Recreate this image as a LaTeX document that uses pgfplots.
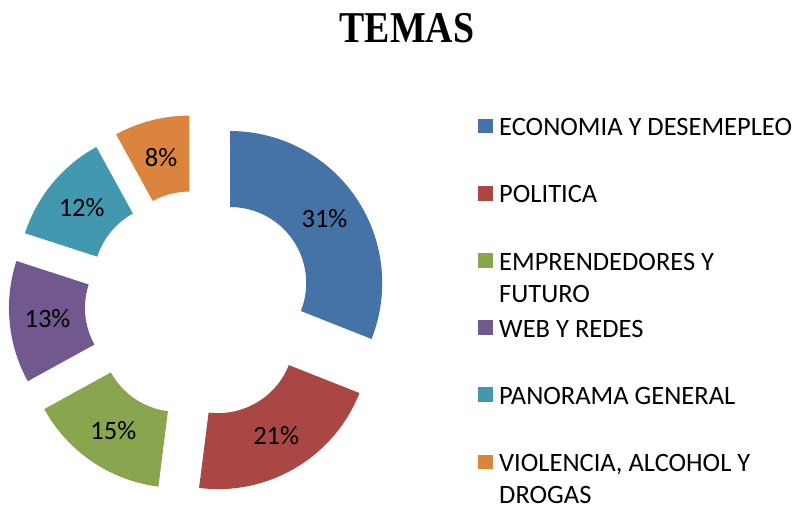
\documentclass[border=0pt]{standalone}
\usepackage{pgfplots}
\pgfplotsset{compat=1.18}
\usepackage{pgfplotstable}
\usepackage{fontspec}
\setmainfont{Carlito}
\newfontfamily\titlefont{Liberation Serif}
\definecolor{c0}{HTML}{4572A7}
\definecolor{c1}{HTML}{AA4643}
\definecolor{c2}{HTML}{89A54E}
\definecolor{c3}{HTML}{71588F}
\definecolor{c4}{HTML}{4198AF}
\definecolor{c5}{HTML}{DB843D}
\pgfplotstableread{
tema value
Economia 31
Politica 21
Emprendedores 15
Web 13
Panorama 12
Violencia 8
}\temas
% geometry (1 unit = 1pt = 1px of the reference)
\def\Cx{198.8}\def\Cy{202.6}\def\Dex{38}\def\Rm{114}
\gdef\cum{0}
\foreach \i in {0,...,5}{%
  \pgfplotstablegetelem{\i}{value}\of\temas
  \xdef\curval{\pgfplotsretval}%
  \pgfmathsetmacro\aS{90-3.6*\cum}%
  \pgfmathsetmacro\aE{\aS-3.6*\curval}%
  \pgfmathsetmacro\aB{(\aS+\aE)/2}%
  \pgfmathsetmacro\cx{\Cx+\Dex*cos(\aB)}%
  \pgfmathsetmacro\cy{\Cy+\Dex*sin(\aB)}%
  \pgfmathsetmacro\lx{\cx+\Rm*cos(\aB)}%
  \pgfmathsetmacro\ly{\cy+\Rm*sin(\aB)}%
  \expandafter\xdef\csname aS\i\endcsname{\aS}%
  \expandafter\xdef\csname aE\i\endcsname{\aE}%
  \expandafter\xdef\csname cx\i\endcsname{\cx}%
  \expandafter\xdef\csname cy\i\endcsname{\cy}%
  \expandafter\xdef\csname lx\i\endcsname{\lx}%
  \expandafter\xdef\csname ly\i\endcsname{\ly}%
  \expandafter\xdef\csname val\i\endcsname{\curval}%
  \pgfmathsetmacro\newcum{\cum+\curval}%
  \xdef\cum{\newcum}%
}
\newcommand\G[2]{\csname #1#2\endcsname}
\newcommand\entry[1]{\raisebox{0pt}[17pt][4pt]{\begin{tabular}[t]{@{}l@{}}#1\end{tabular}}}
\begin{document}
\begin{tikzpicture}
\begin{axis}[hide axis, scale only axis, width=795pt, height=507pt,
  xmin=0, xmax=795, ymin=0, ymax=507, clip=false,
  legend style={at={(axis cs:478,388.4)}, anchor=north west, draw=none, fill=none,
    inner sep=0pt, outer sep=0pt, row sep=48.6pt,
    font=\fontsize{26.5}{32}\selectfont, nodes={inner sep=0pt},
    /tikz/every odd column/.append style={column sep=6.5pt}},
  legend cell align=left,
  legend image code/.code={\fill[#1, draw=none] (0pt,-5.35pt) rectangle (14.7pt,9.35pt);},
]
\addplot[draw=none, forget plot] coordinates {(0,0) (795,507)};
\path (rel axis cs:0,0) rectangle (rel axis cs:1,1);
\pgfplotsinvokeforeach{0,...,5}{%
  \fill[c#1, shift={(axis cs:\G{cx}{#1},\G{cy}{#1})}]
    (\G{aS}{#1}:152pt) arc[start angle=\G{aS}{#1}, end angle=\G{aE}{#1}, radius=152pt]
    -- (\G{aE}{#1}:76pt) arc[start angle=\G{aE}{#1}, end angle=\G{aS}{#1}, radius=76pt]
    -- cycle;
  \node[font=\fontsize{26.5}{30}\selectfont, text=black] at (axis cs:\G{lx}{#1},\G{ly}{#1}) {\G{val}{#1}\%};
}
\addlegendimage{fill=c0}
\addlegendentry{\entry{ECONOMIA Y DESEMEPLEO}}
\addlegendimage{fill=c1}
\addlegendentry{\entry{POLITICA}}
\addlegendimage{fill=c2}
\addlegendentry{\entry{EMPRENDEDORES Y\\FUTURO}}
\addlegendimage{fill=c3}
\addlegendentry{\entry{WEB Y REDES}}
\addlegendimage{fill=c4}
\addlegendentry{\entry{PANORAMA GENERAL}}
\addlegendimage{fill=c5}
\addlegendentry{\entry{VIOLENCIA, ALCOHOL Y\\DROGAS}}
\node[font=\titlefont\bfseries\fontsize{44}{44}\selectfont, anchor=base] at (axis cs:407,464.5) {\scalebox{0.86}[1]{TEMAS}};
\end{axis}
\end{tikzpicture}
\end{document}
